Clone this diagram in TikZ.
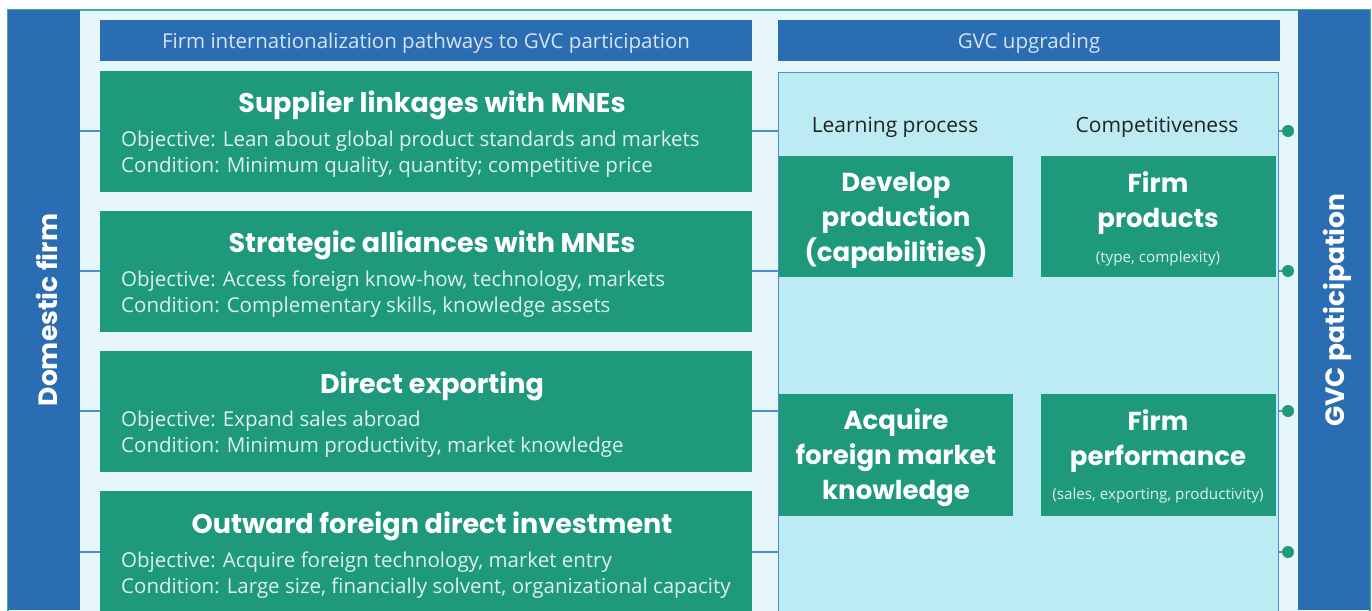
\documentclass[tikz,border=0pt]{standalone}
\usepackage{fontspec}
\setmainfont{Open Sans}
\newfontfamily\pop{Poppins}
\definecolor{cblue}{HTML}{2A6DB3}
\definecolor{cgreen}{HTML}{1E997C}
\definecolor{cbg}{HTML}{E6F6FA}
\definecolor{cpanel}{HTML}{BDEBF3}
\definecolor{cline}{HTML}{4A8FD0}
\definecolor{cframe}{HTML}{3DB08E}
\definecolor{clight}{HTML}{DDF2EC}
\definecolor{chead}{HTML}{D6E4F4}
\definecolor{cdark}{HTML}{222222}
\begin{document}
\begin{tikzpicture}[x=1pt,y=-1pt,
  bar/.style={fill=cblue,draw=none,minimum width=72pt,minimum height=600pt,anchor=north west,inner sep=0pt},
  head/.style={fill=cblue,draw=none,anchor=north west,inner sep=0pt,minimum height=41pt,text=chead},
  htxt/.style={text=chead,font=\fontsize{20.5}{22}\selectfont},
  gbox/.style={fill=cgreen,draw=none,anchor=north west,inner sep=0pt},
  ttl/.style={text=white,font=\pop\fontsize{27}{30}\selectfont\bfseries},
  body/.style={text=clight,anchor=west,inner sep=0pt,font=\fontsize{20.5}{22}\selectfont},
  big/.style={text=white,align=center,font=\pop\fontsize{26}{35}\selectfont\bfseries},
  small/.style={text=clight,font=\fontsize{15.2}{16}\selectfont},
  lbl/.style={text=cdark,font=\fontsize{21}{22}\selectfont},
  conn/.style={draw=cline,line width=1.6pt},
  dot/.style={circle,fill=cgreen,draw=none,minimum size=12pt,inner sep=0pt},
  vtext/.style={text=white,rotate=90,font=\pop\fontsize{26.5}{30}\selectfont\bfseries}
]
\useasboundingbox (0,0) rectangle (1372,610);
% background frame
\fill[cbg] (8,10) rectangle (1370,612);
\draw[cframe,line width=1.3pt] (8,612) -- (8,10) -- (1370,10) -- (1370,612);
% side bars
\node[bar] (dom) at (8,10) {};
\node[bar] (gvc) at (1298,10) {};
\node[vtext] (domt) at (47,310) {Domestic firm};
\node[vtext] (gvct) at (1337,310) {GVC paticipation};
% headers
\node[head,minimum width=652pt] (h1) at (100,20) {};
\node[head,minimum width=502pt] (h2) at (778,20) {};
\node[htxt] (h1t) at (426,43) {Firm internationalization pathways to GVC participation};
\node[htxt] (h2t) at (1029,43) {GVC upgrading};
% panel
\node[fill=cpanel,draw=cline,line width=1pt,anchor=north west,inner sep=0pt,minimum width=500pt,minimum height=545pt] (panel) at (778,72) {};
% left boxes
\node[gbox,minimum width=652pt,minimum height=121pt] (b1) at (100,71) {};
\node[gbox,minimum width=652pt,minimum height=121pt] (b2) at (100,211) {};
\node[gbox,minimum width=652pt,minimum height=121pt] (b3) at (100,351) {};
\node[gbox,minimum width=652pt,minimum height=125pt] (b4) at (100,491) {};
\node[ttl] (t1) at (432,105) {Supplier linkages with MNEs};
\node[body] (o1) at (121,141) {Objective: Lean about global product standards and markets};
\node[body] (c1) at (121,167) {Condition: Minimum quality, quantity; competitive price};
\node[ttl] (t2) at (432,245) {Strategic alliances with MNEs};
\node[body] (o2) at (121,281) {Objective: Access foreign know-how, technology, markets};
\node[body] (c2) at (121,307) {Condition: Complementary skills, knowledge assets};
\node[ttl] (t3) at (432,386) {Direct exporting};
\node[body] (o3) at (121,421) {Objective: Expand sales abroad};
\node[body] (c3) at (121,447) {Condition: Minimum productivity, market knowledge};
\node[ttl] (t4) at (432,526) {Outward foreign direct investment};
\node[body] (o4) at (121,562) {Objective: Acquire foreign technology, market entry};
\node[body] (c4) at (121,588) {Condition: Large size, financially solvent, organizational capacity};
% panel labels
\node[lbl] (lp) at (895,127) {Learning process};
\node[lbl] (cp) at (1157,127) {Competitiveness};
% right boxes
\node[gbox,minimum width=234pt,minimum height=121pt] (r1) at (779,156) {};
\node[gbox,minimum width=235pt,minimum height=121pt] (r2) at (1041,156) {};
\node[gbox,minimum width=234pt,minimum height=122pt] (r3) at (779,394) {};
\node[gbox,minimum width=235pt,minimum height=122pt] (r4) at (1041,394) {};
\node[big] (r1t) at (896,220) {Develop\\production\\(capabilities)};
\node[big] (r2t) at (1158,203) {Firm\\products};
\node[small] (r2s) at (1158,259) {(type, complexity)};
\node[big] (r3t) at (896,458) {Acquire\\foreign market\\knowledge};
\node[big] (r4t) at (1158,441) {Firm\\performance};
\node[small] (r4s) at (1158,496) {(sales, exporting, productivity)};
% dots
\node[dot] (d1) at (1288,131) {};
\node[dot] (d2) at (1288,271) {};
\node[dot] (d3) at (1288,411) {};
\node[dot] (d4) at (1288,552) {};
% connectors
\foreach \b/\d in {b1/d1,b2/d2,b3/d3,b4/d4}{
  \draw[conn] (dom.east |- \d) -- (\b.west |- \d);
  \draw[conn] (\b.east |- \d) -- (panel.west |- \d);
  \draw[conn] (panel.east |- \d) -- (\d);
}
\end{tikzpicture}
\end{document}
